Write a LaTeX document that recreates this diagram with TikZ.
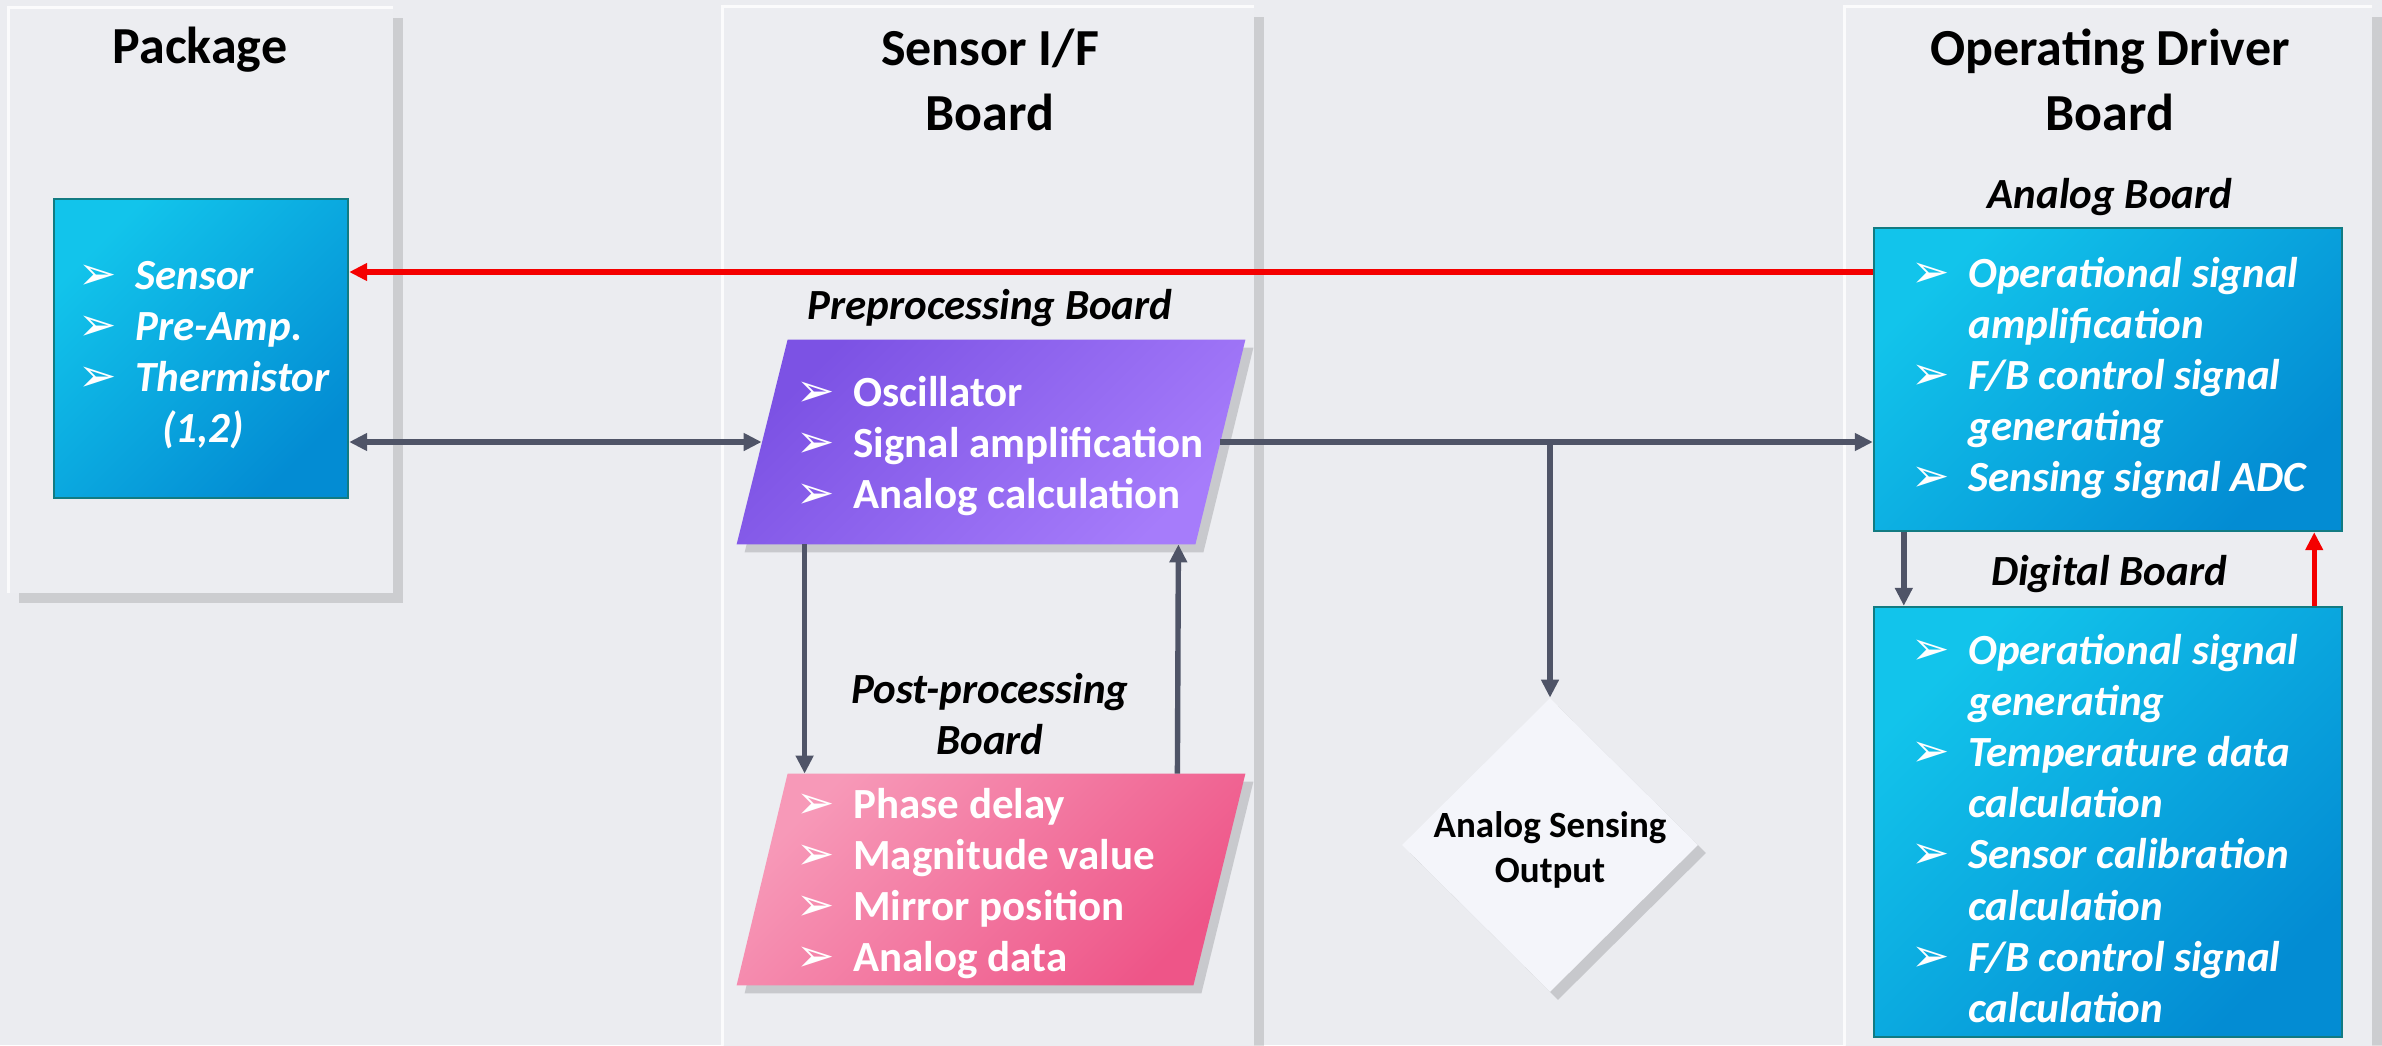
\documentclass[tikz,border=0pt]{standalone}
\usepackage{fontspec}
\setmainfont{Carlito}
\newfontfamily\dingfont{DejaVu Sans}
\usetikzlibrary{arrows.meta,shadows,shapes.geometric}

\definecolor{bgc}{HTML}{EBECF0}
\definecolor{panelc}{HTML}{ECEDF1}
\definecolor{blueA}{HTML}{12C4EB}
\definecolor{blueB}{HTML}{038CD3}
\definecolor{blueEdge}{HTML}{127B82}
\definecolor{purA}{HTML}{7C52E4}
\definecolor{purB}{HTML}{A67CFB}
\definecolor{pinkA}{HTML}{F799B8}
\definecolor{pinkB}{HTML}{EE5588}
\definecolor{arrgray}{HTML}{4F5467}
\definecolor{arrred}{HTML}{F40000}
\definecolor{diamc}{HTML}{F4F5FA}

\newcommand{\bl}{\makebox[28.5pt][l]{\dingfont\fontsize{23}{23}\selectfont ➢}}
\newcommand{\ind}{\hspace*{28.5pt}}

\begin{document}
\begin{tikzpicture}[x=0.5pt,y=-0.5pt,
  boardpanel/.style={draw=none, fill=panelc, inner sep=0,
    drop shadow={shadow xshift=5pt, shadow yshift=-5pt, fill=black, opacity=0.13}},
  bluebox/.style={draw=blueEdge, line width=1.2pt, top color=blueA, bottom color=blueB, shading angle=45, inner sep=0},
  holder/.style={inner sep=0, draw=none},
  headtitle/.style={font=\fontsize{26}{32.5}\selectfont\bfseries, anchor=base, inner sep=0},
  subtitle/.style={font=\fontsize{21.5}{25.6}\selectfont\bfseries\itshape, anchor=base, inner sep=0},
  itemtext/.style={text=white, anchor=base west, inner sep=0, font=\fontsize{21.5}{25.6}\selectfont\bfseries},
  itemtexti/.style={text=white, anchor=base west, inner sep=0, font=\fontsize{21.5}{25.6}\selectfont\bfseries\itshape},
  garrow/.style={draw=arrgray, line width=2.7pt, -{Triangle[length=9pt,width=8.5pt]}},
  garrowb/.style={draw=arrgray, line width=2.7pt, {Triangle[length=9pt,width=8.5pt]}-{Triangle[length=9pt,width=8.5pt]}},
  rarrow/.style={draw=arrred, line width=2.7pt, -{Triangle[length=9pt,width=8.5pt]}},
  pshadow/.style={drop shadow={shadow xshift=4pt, shadow yshift=-4pt, fill=black, opacity=0.15}}
]
\fill[bgc] (0,0) rectangle (2382,1045);
\useasboundingbox (0,0) rectangle (2382,1045);
\clip (0,0) rectangle (2382,1045);

% panels
\node[boardpanel, minimum width=192pt, minimum height=292.5pt] (pkgpanel) at (201,300.5) {};
\node[boardpanel, minimum width=265.5pt, minimum height=529pt] (sifpanel) at (988.5,536) {};
\node[boardpanel, minimum width=263.5pt, minimum height=529pt] (odbpanel) at (2108.5,536) {};
\foreach \p in {pkgpanel,sifpanel,odbpanel}
  \draw[white, opacity=0.8, line width=1.5pt] (\p.south west) -- (\p.north west) -- (\p.north east);

% titles
\node[headtitle] (pkgtitle) at (200,63) {Package};
\node[headtitle] (siftitle) at (990,65) {\begin{tabular}[t]{@{}c@{}}Sensor I/F\\Board\end{tabular}};
\node[headtitle] (odbtitle) at (2110,65) {\begin{tabular}[t]{@{}c@{}}Operating Driver\\Board\end{tabular}};

% package box
\node[bluebox, minimum width=147pt, minimum height=149.5pt] (pkg) at (201,348.5) {};
\node[itemtexti] (pkgtext) at (78,289) {\begin{tabular}[t]{@{}l@{}}\bl Sensor\\ \bl Pre-Amp.\\ \bl Thermistor\\ \ind\hspace*{13.5pt}(1,2)\end{tabular}};

% preprocessing
\node[subtitle] (prelabel) at (990,319) {Preprocessing Board};
\node[holder, minimum width=229pt, minimum height=102pt] (pre) at (991,442) {};
\path[pshadow, top color=purA, bottom color=purB, shading angle=45]
  ([xshift=13pt]pre.north west) -- ([xshift=12.5pt]pre.north east) -- ([xshift=-12.5pt]pre.south east) -- ([xshift=-12.5pt]pre.south west) -- cycle;
\node[itemtext] (pretext) at (796,406) {\begin{tabular}[t]{@{}l@{}}\bl Oscillator\\ \bl Signal amplification\\ \bl Analog calculation\end{tabular}};

% post-processing
\node[subtitle] (postlabel) at (990,703) {\begin{tabular}[t]{@{}c@{}}Post-processing\\Board\end{tabular}};
\node[holder, minimum width=228.5pt, minimum height=105.5pt] (post) at (990.5,879.5) {};
\path[pshadow, top color=pinkA, bottom color=pinkB, shading angle=45]
  ([xshift=13pt]post.north west) -- ([xshift=13pt]post.north east) -- ([xshift=-13pt]post.south east) -- ([xshift=-12.5pt]post.south west) -- cycle;
\node[itemtext] (posttext) at (796,818) {\begin{tabular}[t]{@{}l@{}}\bl Phase delay\\ \bl Magnitude value\\ \bl Mirror position\\ \bl Analog data\end{tabular}};

% analog sensing output
\node[diamond, draw=none, fill=diamc, minimum width=148pt, minimum height=147pt, inner sep=0, pshadow] (out) at (1550,845) {};
\node[font=\fontsize{18.5}{22.5}\selectfont\bfseries, anchor=base, inner sep=0] (outtext) at (1550,837) {\begin{tabular}[t]{@{}c@{}}Analog Sensing\\Output\end{tabular}};

% analog board
\node[subtitle] (analoglabel) at (2110,208) {Analog Board};
\node[bluebox, minimum width=234pt, minimum height=151.5pt] (analog) at (2108,379.5) {};
\node[itemtexti] (analogtext) at (1911,287) {\begin{tabular}[t]{@{}l@{}}\bl Operational signal\\ \ind amplification\\ \bl F/B control signal\\ \ind generating\\ \bl Sensing signal ADC\end{tabular}};

% digital board
\node[subtitle] (digitallabel) at (2109,585) {Digital Board};
\node[bluebox, minimum width=234pt, minimum height=215pt] (digital) at (2108,822) {};
\node[itemtexti] (digitaltext) at (1911,664) {\begin{tabular}[t]{@{}l@{}}\bl Operational signal\\ \ind generating\\ \bl Temperature data\\ \ind calculation\\ \bl Sensor calibration\\ \ind calculation\\ \bl F/B control signal\\ \ind calculation\end{tabular}};

% connectors
\coordinate (redlvl) at (0,272);
\draw[rarrow] (analog.west |- redlvl) -- (pkg.east |- redlvl);
\draw[garrowb] (pkg.east |- pre.west) -- (pre.west);
\draw[garrow] (pre.east) -- (pre.east -| analog.west);
\draw[garrow] (out.north |- pre.east) -- (out.north);
\draw[garrow] ([xshift=21.5pt]pre.south west) -- ([xshift=21.5pt]post.north west);
\draw[garrow] ([xshift=-21pt]post.north east) -- ([xshift=-21pt]pre.south east);
\draw[garrow] ([xshift=15.5pt]analog.south west) -- ([xshift=15.5pt]digital.north west);
\draw[rarrow] ([xshift=-14.5pt]digital.north east) -- ([xshift=-14.5pt]analog.south east);
\end{tikzpicture}
\end{document}
